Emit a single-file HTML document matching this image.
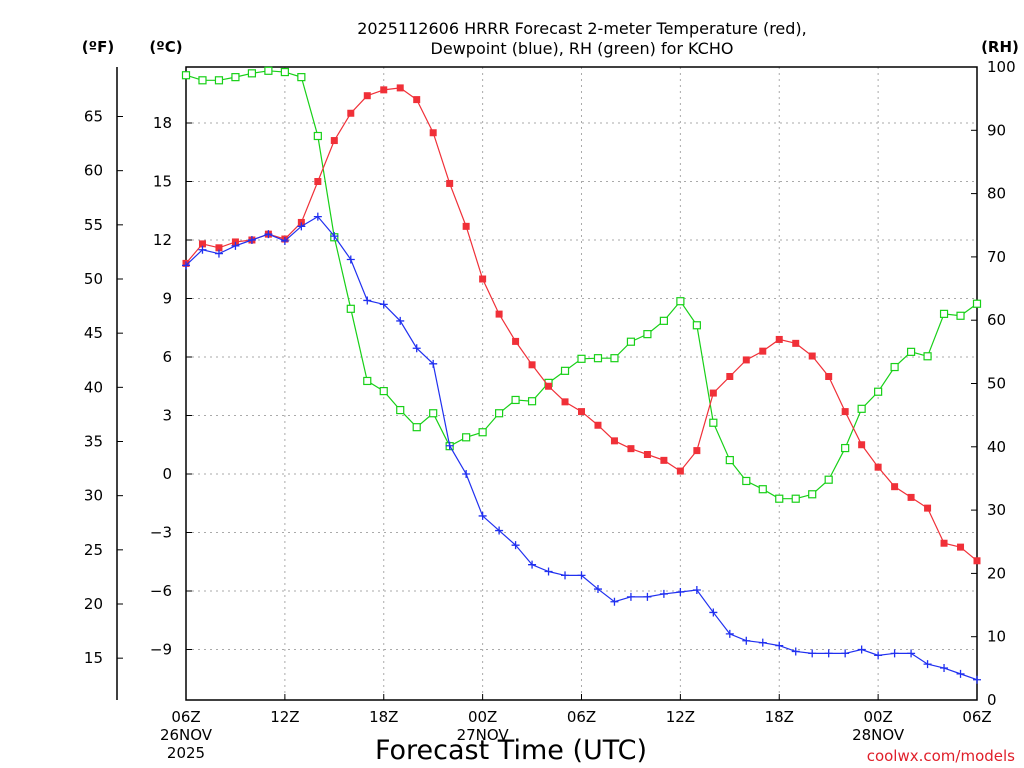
<!DOCTYPE html>
<html><head><meta charset="utf-8"><style>
html,body{margin:0;padding:0;background:#fff;}
svg{display:block;font-family:"DejaVu Sans","Liberation Sans",sans-serif;}
</style></head><body>
<svg id="chart" width="1024" height="768" viewBox="0 0 1024 768">
<text x="582" y="34" font-size="16" text-anchor="middle">2025112606 HRRR Forecast 2-meter Temperature (red),</text>
<text x="582" y="54" font-size="16" text-anchor="middle">Dewpoint (blue), RH (green) for KCHO</text>
<text x="98" y="52" font-size="15" font-weight="bold" text-anchor="middle">(ºF)</text>
<text x="166" y="52" font-size="15" font-weight="bold" text-anchor="middle">(ºC)</text>
<text x="1000" y="52" font-size="15" font-weight="bold" text-anchor="middle">(RH)</text>
<text x="511" y="759" font-size="27" text-anchor="middle">Forecast Time (UTC)</text>
<text x="1015" y="761" font-size="15" fill="#e0202a" text-anchor="end">coolwx.com/models</text>
<g id="grid"></g><g id="axes"></g><g id="series"></g>
</svg>
<script>
const hours = Array.from({length:49},(_,i)=>i);
const xTickLabels = ["06Z","12Z","18Z","00Z","06Z","12Z","18Z","00Z","06Z"];
const dateLabels = [[0,"26NOV","2025"],[18,"27NOV",""],[42,"28NOV",""]];
const cTicks = [-9,-6,-3,0,3,6,9,12,15,18];
const fTicks = [15,20,25,30,35,40,45,50,55,60,65];
const rhTicks = [0,10,20,30,40,50,60,70,80,90,100];
const temp = [10.8,11.8,11.6,11.9,12.0,12.3,12.05,12.9,15.0,17.1,18.5,19.4,19.7,19.8,19.2,17.5,14.9,12.7,10.0,8.2,6.8,5.6,4.5,3.7,3.2,2.5,1.7,1.3,1.0,0.7,0.15,1.2,4.15,5.0,5.85,6.3,6.9,6.7,6.05,5.0,3.2,1.5,0.35,-0.65,-1.2,-1.75,-3.55,-3.75,-4.45];
const dewp = [10.7,11.5,11.3,11.7,12.0,12.3,11.95,12.7,13.2,12.2,11.0,8.9,8.7,7.85,6.45,5.65,1.45,0,-2.15,-2.9,-3.65,-4.65,-5.0,-5.2,-5.2,-5.9,-6.55,-6.3,-6.3,-6.15,-6.05,-5.95,-7.1,-8.2,-8.55,-8.65,-8.8,-9.1,-9.2,-9.2,-9.2,-9.0,-9.3,-9.2,-9.2,-9.75,-9.95,-10.25,-10.55];
const rh = [98.7,97.9,97.9,98.4,99.0,99.4,99.2,98.4,89.1,73.1,61.8,50.4,48.8,45.8,43.1,45.3,40.1,41.5,42.3,45.3,47.4,47.2,50.1,52.0,53.9,54.0,54.0,56.6,57.8,59.9,63.0,59.2,43.8,37.9,34.6,33.3,31.8,31.8,32.5,34.8,39.8,46.0,48.7,52.6,55.0,54.3,61.0,60.7,62.6];

const L=186,R=977,T=67,B=700;
const xs=h=>L+h*(R-L)/48;
const yC=c=>474-c*19.5;
const yF=f=>yC((f-32)*5/9);
const yR=r=>B-r*(B-T)/100;
const NS="http://www.w3.org/2000/svg";
function mk(tag,attrs,parent,text){const e=document.createElementNS(NS,tag);for(const k in attrs)e.setAttribute(k,attrs[k]);if(text!==undefined)e.textContent=text;parent.appendChild(e);return e;}
const grid=document.getElementById('grid'),axes=document.getElementById('axes'),ser=document.getElementById('series');

cTicks.forEach(c=>{const y=yC(c);
 const g=mk('line',{x1:L,x2:R,y1:y,y2:y,stroke:'#aaa','stroke-dasharray':'2,4'},grid);
 
 const t=mk('text',{x:172,y:y+5,'font-size':15,'text-anchor':'end'},axes,c<0?'\u2212'+(-c):String(c));
 
 mk('line',{x1:L,x2:L+6,y1:y,y2:y,stroke:'#000'},axes);
});
xTickLabels.forEach((lab,i)=>{const x=xs(i*6);
 if(i>0&&i<8){const g=mk('line',{x1:x,x2:x,y1:T,y2:B,stroke:'#aaa','stroke-dasharray':'2,4'},grid);
 }
 mk('line',{x1:x,x2:x,y1:B,y2:B-6,stroke:'#000'},axes);
 const t=mk('text',{x:x,y:722,'font-size':15,'text-anchor':'middle'},axes,lab);
 
});
dateLabels.forEach(d=>{const x=xs(d[0]);
 const t=mk('text',{x:x,y:740,'font-size':15,'text-anchor':'middle'},axes,d[1]);
 
 if(d[2]){const t2=mk('text',{x:x,y:758,'font-size':15,'text-anchor':'middle'},axes,d[2]);
 }
});
fTicks.forEach(f=>{const y=yF(f);
 mk('line',{x1:117,x2:123,y1:y,y2:y,stroke:'#000'},axes);
 const t=mk('text',{x:103,y:y+5,'font-size':15,'text-anchor':'end'},axes,String(f));
 
});
rhTicks.forEach(r=>{const y=yR(r);
 mk('line',{x1:R,x2:R-6,y1:y,y2:y,stroke:'#000'},axes);
 const t=mk('text',{x:987,y:y+5,'font-size':15},axes,String(r));
 
});
const fr=mk('rect',{x:L,y:T,width:R-L,height:B-T,fill:'none',stroke:'#000','stroke-width':1.5},axes);

const fa=mk('line',{x1:117,x2:117,y1:T,y2:B,stroke:'#000','stroke-width':1.5},axes);


function series(vals,yfn,color,marker,name){
 const pl=mk('polyline',{points:vals.map((v,i)=>xs(hours[i])+','+yfn(v)).join(' '),fill:'none',stroke:color,'stroke-width':1.2},ser);
 
 vals.forEach((v,i)=>{const x=xs(hours[i]),y=yfn(v);let m;
  if(marker==='sq')m=mk('rect',{x:x-3.5,y:y-3.5,width:7,height:7,fill:color},ser);
  else if(marker==='osq')m=mk('rect',{x:x-3.5,y:y-3.5,width:7,height:7,fill:'#fff',stroke:color,'stroke-width':1.2},ser);
  else m=mk('path',{d:`M${x-4} ${y}H${x+4}M${x} ${y-4}V${y+4}`,stroke:color,'stroke-width':1.3},ser);
  
 });
}
series(rh,yR,'#18d018','osq','rh');
series(temp,yC,'#f03038','sq','temperature');
series(dewp,yC,'#2030f0','plus','dewpoint');
</script>
</body></html>
